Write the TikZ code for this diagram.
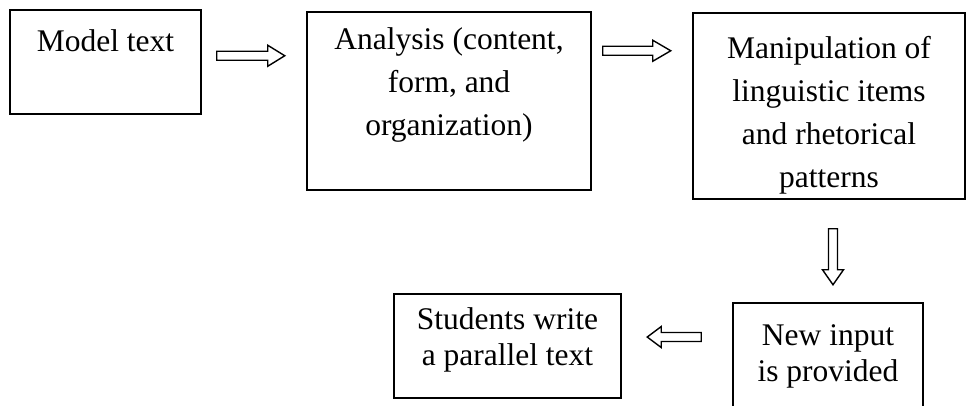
\documentclass[tikz,border=0pt]{standalone}
\usepackage{fontspec}
\setmainfont{Liberation Serif}
\usetikzlibrary{calc}

\tikzset{
  stagebox/.style={draw, line width=1.5pt, inner sep=0pt},
  stagetext/.style={inner sep=0pt, align=center, anchor=north,
    font=\fontsize{31.5}{43}\selectfont},
  lowtext/.style={stagetext, font=\fontsize{31.5}{35.5}\selectfont},
  arrowline/.style={draw, line width=1.4pt, line join=miter, fill=white},
  pics/blockarrow/.style n args={4}{code={
    % #1 length, #2 head length, #3 half shaft width, #4 half head width
    \path[arrowline] (0,-#3) -- ({#1-#2},-#3) -- ({#1-#2},-#4) -- (#1,0)
      -- ({#1-#2},#4) -- ({#1-#2},#3) -- (0,#3) -- cycle;
  }}
}

\begin{document}
\begin{tikzpicture}[x=1pt, y=-1pt]
\useasboundingbox (0,0) rectangle (967,405);

% stage boxes
\node[stagebox, minimum width=191pt, minimum height=104pt] (model) at (105.5,62) {};
\node[stagebox, minimum width=284pt, minimum height=178pt] (analysis) at (449,101) {};
\node[stagebox, minimum width=272pt, minimum height=186pt] (manip) at (829,106) {};
\node[stagebox, minimum width=190pt, minimum height=110pt] (newin) at (828,358) {};
\node[stagebox, minimum width=227pt, minimum height=104pt] (students) at (507.5,346) {};

% box texts
\node[stagetext] (modelT) at ($(model.north)+(0,20.5)$) {Model text};
\node[stagetext] (analysisT) at ($(analysis.north)+(0,16)$)
  {Analysis (content,\\form, and\\organization)};
\node[stagetext] (manipT) at ($(manip.north)+(0,23.5)$)
  {Manipulation of\\linguistic items\\and rhetorical\\patterns};
\node[lowtext] (newinT) at ($(newin.north)+(0,22.5)$) {New input\\is provided};
\node[lowtext] (studentsT) at ($(students.north)+(0,14.5)$)
  {Students write\\a parallel text};

% hollow block arrows between the stages
\coordinate (a1) at ($(model.north east)+(15,46.5)$);
\coordinate (a2) at ($(analysis.north east)+(11,39.5)$);
\coordinate (a3) at ($(manip.south)+(4,29)$);
\coordinate (a4) at ($(newin.west)+(-31,-21)$);
\pic at (a1) {blockarrow={68}{17}{4.5}{10.5}};
\pic at (a2) {blockarrow={68}{18}{4.5}{10.5}};
\pic[rotate=-90] at (a3) {blockarrow={56}{15}{4.5}{10.5}};
\pic[rotate=180] at (a4) {blockarrow={54}{14}{4.5}{10.5}};
\end{tikzpicture}
\end{document}
